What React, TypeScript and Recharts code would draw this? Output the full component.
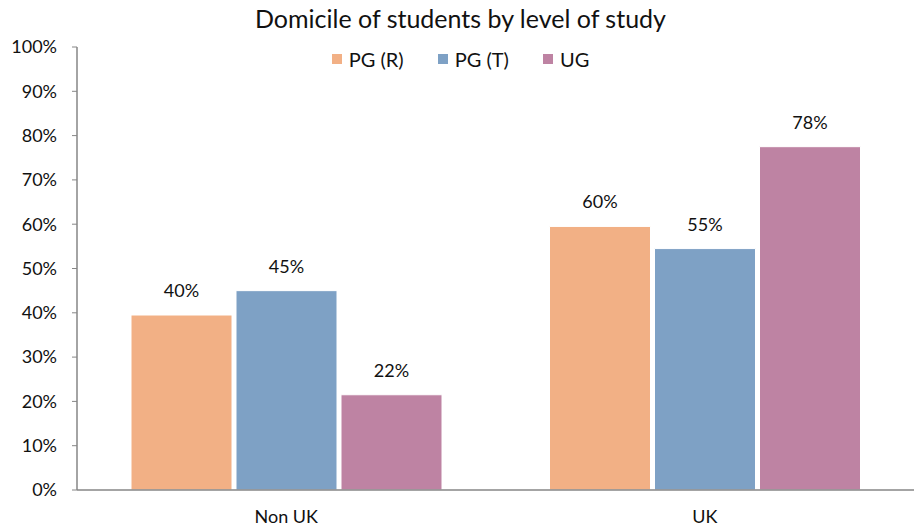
import React from "react";
import { Bar, BarChart, LabelList, XAxis, YAxis } from "recharts";

const categories = ["Non UK", "UK"];
const pgResearch = [39.5, 59.5];
const pgTaught = [45.0, 54.5];
const undergrad = [21.5, 77.5];
const yTicks = [0, 10, 20, 30, 40, 50, 60, 70, 80, 90, 100];

const series = [
  { key: "pgr", name: "PG (R)", color: "#F2B085" },
  { key: "pgt", name: "PG (T)", color: "#7EA1C5" },
  { key: "ug", name: "UG", color: "#BE83A3" },
];

const data = categories.map((c, i) => ({
  cat: c,
  pgr: pgResearch[i],
  pgt: pgTaught[i],
  ug: undergrad[i],
}));

const FONT = "Lato, 'Open Sans', sans-serif";
const AXIS = "#868686";
const INK = "#111";

function LegendRow() {
  return (
    <div
      style={{
        position: "absolute",
        top: 46,
        left: 0,
        width: 921,
        display: "flex",
        justifyContent: "center",
        gap: 34,
        fontFamily: FONT,
        fontSize: 20,
        lineHeight: "26px",
        color: INK,
        zIndex: 2,
      }}
    >
      {series.map((s) => (
        <div key={s.key} style={{ display: "flex", alignItems: "center" }}>
          <span style={{ width: 10, height: 10, background: s.color, marginRight: 7, display: "inline-block" }} />
          <span>{s.name}</span>
        </div>
      ))}
    </div>
  );
}

export default function App() {
  return (
    <div style={{ position: "absolute", left: 0, top: 0, width: 921, height: 529, background: "#fff" }}>
      <div
        style={{
          position: "absolute",
          top: 2,
          left: 0,
          width: 921,
          textAlign: "center",
          fontFamily: FONT,
          fontSize: 25,
          lineHeight: "32px",
          color: INK,
          zIndex: 2,
        }}
      >
        Domicile of students by level of study
      </div>
      <LegendRow />
      <BarChart
        width={921}
        height={529}
        data={data}
        margin={{ top: 47, right: 7, left: 17, bottom: 9 }}
        barCategoryGap={54}
        barGap={4}
      >
        <XAxis
          xAxisId="edges"
          type="number"
          domain={[0, 2]}
          ticks={[0, 1, 2]}
          height={0}
          axisLine={false}
          tickLine={{ stroke: AXIS }}
          tickSize={5}
          tickFormatter={() => ""}
        />
        <XAxis
          dataKey="cat"
          height={30}
          axisLine={{ stroke: AXIS, strokeWidth: 1.5 }}
          tickLine={false}
          tickMargin={14}
          tick={{ fontSize: 18, fill: INK, fontFamily: FONT }}
        />
        <YAxis
          domain={[0, 100]}
          ticks={yTicks}
          width={60}
          tickSize={5}
          tickMargin={15}
          axisLine={{ stroke: AXIS, strokeWidth: 1.5 }}
          tickLine={{ stroke: AXIS }}
          tickFormatter={(v) => `${v}%`}
          tick={{ fontSize: 18, fill: INK, fontFamily: FONT }}
        />
        {series.map((s) => (
          <Bar key={s.key} dataKey={s.key} name={s.name} fill={s.color} stroke="#fff" strokeWidth={1} isAnimationActive={false}>
            <LabelList
              dataKey={s.key}
              position="top"
              offset={18}
              formatter={(v: number) => `${Math.round(v)}%`}
              style={{ fontSize: 18, fill: INK, fontFamily: FONT }}
            />
          </Bar>
        ))}
      </BarChart>
    </div>
  );
}
